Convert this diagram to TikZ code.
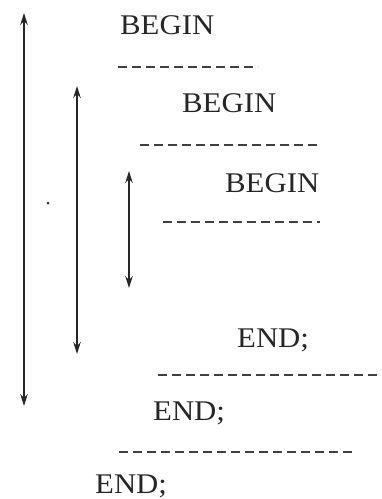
\documentclass[tikz,border=0pt]{standalone}
\usepackage{fontspec}
\newfontfamily\kwfont{Liberation Serif}[FakeStretch=1.08]
\usetikzlibrary{arrows.meta}
\begin{document}
\begin{tikzpicture}[x=1pt,y=-1pt,
  kw/.style={anchor=base west,inner sep=0pt,text=black!85,font=\kwfont\fontsize{28.5}{32}\selectfont},
  sep/.style={draw=black!75,line width=1.6pt,dash pattern=on 9pt off 5pt},
  span/.style={draw=black!85,line width=1.5pt,{Stealth[length=12pt,width=7.5pt]}-{Stealth[length=12pt,width=7.5pt]}}]
\useasboundingbox (0,0) rectangle (381,499);
% text
\node[kw] (b1) at (120,34) {BEGIN};
\node[kw] (b2) at (182,112) {BEGIN};
\node[kw] (b3) at (225,192) {BEGIN};
\node[kw] (e1) at (237,347) {END;};
\node[kw] (e2) at (153,420) {END;};
\node[kw] (e3) at (95,493) {END;};
% dashed separators
\coordinate (d1a) at (118,67);  \coordinate (d1b) at (258,67);
\coordinate (d2a) at (140,145); \coordinate (d2b) at (317,145);
\coordinate (d3a) at (163,222); \coordinate (d3b) at (320,222);
\coordinate (d4a) at (158,375); \coordinate (d4b) at (381,375);
\coordinate (d5a) at (119,452); \coordinate (d5b) at (352,452);
\draw[sep] (d1a) -- (d1b);
\draw[sep] (d2a) -- (d2b);
\draw[sep] (d3a) -- (d3b);
\draw[sep] (d4a) -- (d4b);
\draw[sep] (d5a) -- (d5b);
% scope arrows
\coordinate (a1t) at (24,13);  \coordinate (a1b) at (24,406);
\coordinate (a2t) at (77,86);  \coordinate (a2b) at (77,354);
\coordinate (a3t) at (129,171); \coordinate (a3b) at (129,288);
\draw[span] (a1t) -- (a1b);
\draw[span] (a2t) -- (a2b);
\draw[span] (a3t) -- (a3b);
% small dot
\fill[black!80] (48,203) circle (1.5pt);
\end{tikzpicture}
\end{document}
